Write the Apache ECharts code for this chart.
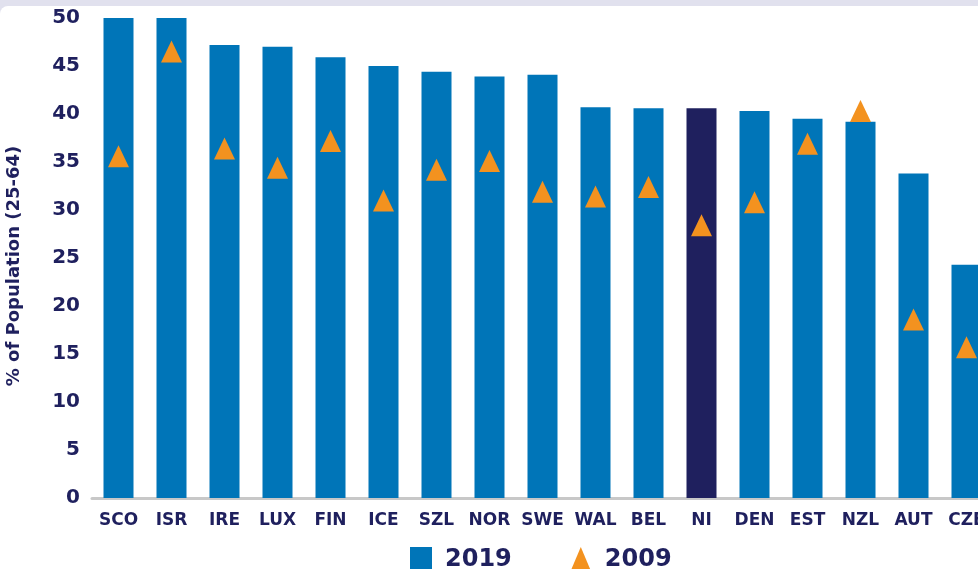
<!DOCTYPE html>
<html>
<head>
<meta charset="utf-8">
<script src="https://cdn.jsdelivr.net/npm/echarts@6/dist/echarts.min.js"></script>
<style>
  html, body { margin: 0; padding: 0; }
  #chart { width: 978px; height: 569px; }
</style>
</head>
<body>
<div id="chart"></div>
<script>
// country codes, in chart order
const categories = ['SCO', 'ISR', 'IRE', 'LUX', 'FIN', 'ICE', 'SZL', 'NOR', 'SWE', 'WAL', 'BEL', 'NI', 'DEN', 'EST', 'NZL', 'AUT', 'CZE']
// % of population (25-64)
const values2019 = [50, 50, 47.2, 47.0, 45.9, 45.0, 44.4, 43.9, 44.1, 40.7, 40.6, 40.6, 40.3, 39.5, 39.2, 33.8, 24.3]
const values2009 = [35.6, 46.5, 36.4, 34.4, 37.2, 31.0, 34.2, 35.1, 31.9, 31.4, 32.4, 28.4, 30.8, 36.9, 40.3, 18.6, 15.7]
const yTicks = { min: 0, max: 50, interval: 5 }

const highlight = 'NI'
const navy = '#1f205e'
const blue = '#0075b8'
const orange = '#f3921f'
const font = 'DejaVu Sans'

const chart = echarts.init(document.getElementById('chart'))

chart.setOption({
  backgroundColor: '#e1e1ee',
  graphic: [{
    type: 'rect',
    z: -10,
    shape: { x: 0, y: 6, width: 1000, height: 600, r: 8 },
    style: { fill: '#ffffff' }
  }],
  grid: {
    left: 92,
    top: 18,
    width: 901,
    height: 480,
    outerBoundsMode: 'none'
  },
  legend: {
    left: 405,
    top: 542,
    itemWidth: 22,
    itemHeight: 26,
    itemGap: 58,
    textStyle: {
      color: navy,
      fontFamily: font,
      fontWeight: 'bold',
      fontSize: 24,
      padding: [0, 0, 0, 8]
    },
    data: [
      { name: '2019', icon: 'rect' },
      { name: '2009', icon: 'triangle' }
    ]
  },
  xAxis: {
    type: 'category',
    data: categories,
    axisLine: { lineStyle: { color: '#c8c8c8', width: 3 } },
    axisTick: { show: false },
    axisLabel: {
      margin: 14,
      color: navy,
      fontFamily: font,
      fontWeight: 'bold',
      fontSize: 17,
      interval: 0
    }
  },
  yAxis: {
    type: 'value',
    min: yTicks.min,
    max: yTicks.max,
    interval: yTicks.interval,
    name: '% of Population (25-64)',
    nameLocation: 'middle',
    nameGap: 69,
    nameMoveOverlap: false,
    nameTextStyle: {
      color: navy,
      fontFamily: font,
      fontWeight: 'bold',
      fontSize: 18,
      padding: [0, 16, 0, 0]
    },
    axisLine: { show: false },
    axisTick: { show: false },
    splitLine: { show: false },
    axisLabel: {
      margin: 12,
      color: navy,
      fontFamily: font,
      fontWeight: 'bold',
      fontSize: 20
    }
  },
  series: [{
    name: '2019',
    type: 'bar',
    barWidth: 30,
    itemStyle: { color: blue },
    data: values2019.map((v, i) => categories[i] === highlight
      ? { value: v, itemStyle: { color: navy } }
      : v)
  }, {
    name: '2009',
    type: 'scatter',
    symbol: 'triangle',
    symbolSize: [21, 22],
    itemStyle: { color: orange, opacity: 1 },
    z: 3,
    data: values2009
  }]
})
</script>
</body>
</html>
